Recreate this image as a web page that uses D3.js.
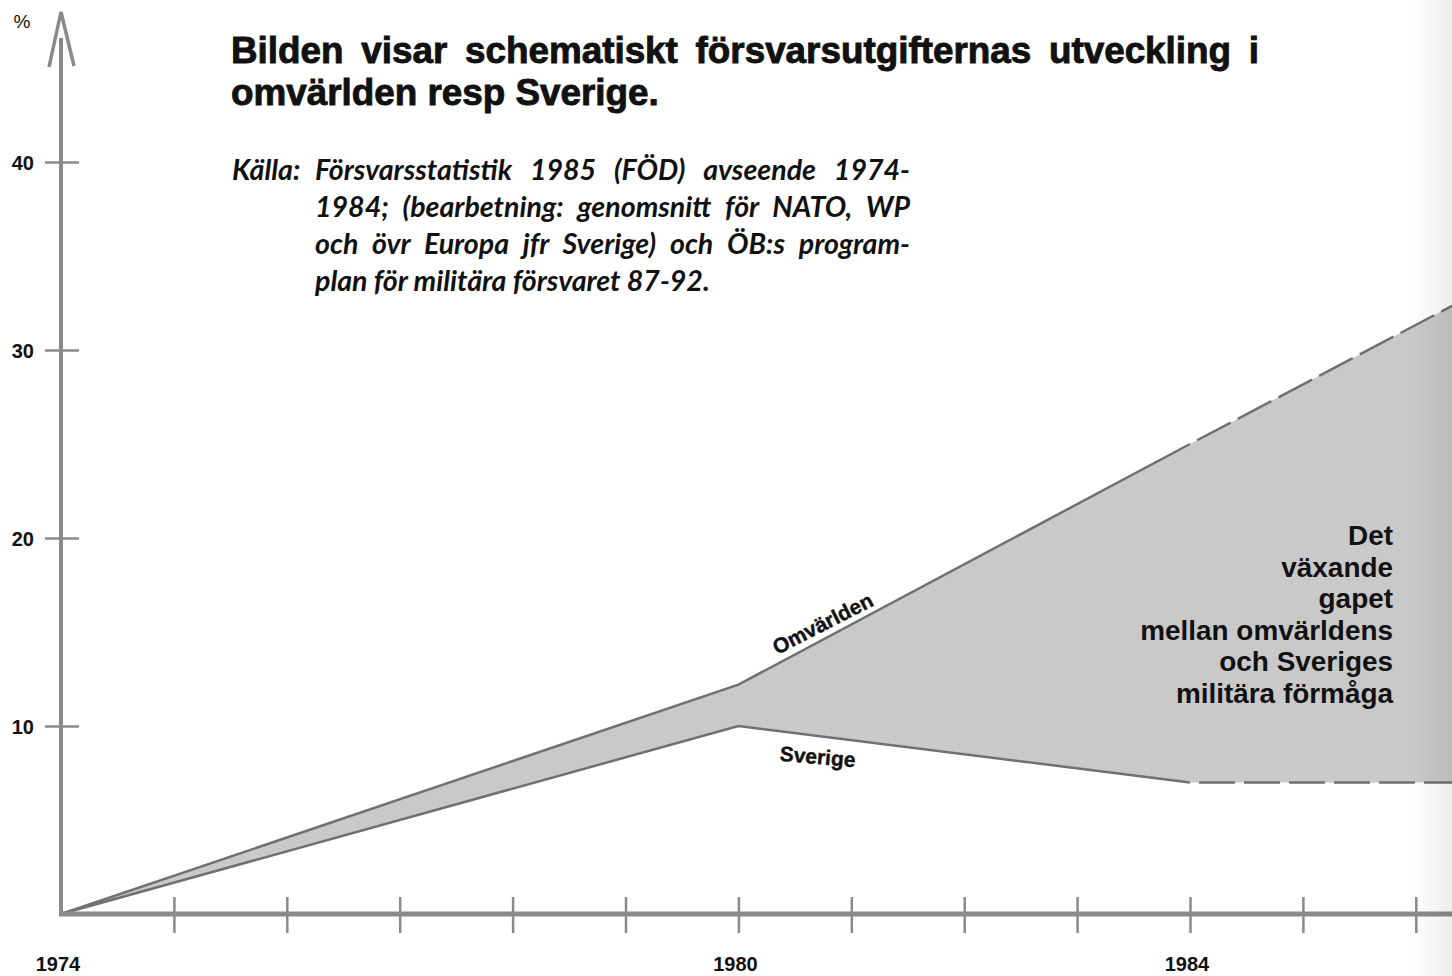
<!DOCTYPE html>
<html><head><meta charset="utf-8">
<script src="https://cdn.jsdelivr.net/npm/d3@7"></script>
<style>html,body{margin:0;padding:0;background:#fff;}svg{display:block;}</style>
</head><body>
<script>
// ---- data ----
const years = [1974, 1980, 1984, 1986.4];
const omvarlden = [0, 12.2, 25, 32.6];
const sverige = [0, 10, 7, 7];
const yTicks = [10, 20, 30, 40];
const xTickYears = [1975,1976,1977,1978,1979,1980,1981,1982,1983,1984,1985,1986];
const xLabels = [1974, 1980, 1984];
const titleLines = ["Bilden visar schematiskt försvarsutgifternas utveckling i", "omvärlden resp Sverige."];
const sourceLead = "Källa:";
const sourceLines = ["Försvarsstatistik 1985 (FÖD) avseende 1974-", "1984; (bearbetning: genomsnitt för NATO, WP", "och övr Europa jfr Sverige) och ÖB:s program-", "plan för militära försvaret 87-92."];
const gapLines = ["Det", "växande", "gapet", "mellan omvärldens", "och Sveriges", "militära förmåga"];

const W = 1452, H = 976;
const svg = d3.select("body").append("svg").attr("width", W).attr("height", H);
const x = d3.scaleLinear().domain([1974, 1984]).range([61, 1190]);
const y = d3.scaleLinear().domain([0, 40]).range([914, 162]);

const axisCol = "#8a8a8a", lineCol = "#707070", fillCol = "#c9c9c9";
const bold = "'Liberation Sans', Arial, sans-serif";

const defs = svg.append("defs");
const g1 = defs.append("linearGradient").attr("id","shade").attr("x1","0").attr("x2","1");
g1.append("stop").attr("offset","0").attr("stop-color","#000").attr("stop-opacity",0);
g1.append("stop").attr("offset","1").attr("stop-color","#000").attr("stop-opacity",0.07);

const pts = years.map((yr,i)=>({yr, o: omvarlden[i], s: sverige[i]}));
svg.append("path")
  .datum(pts)
  .attr("d", d3.area().x(d=>x(d.yr)).y0(d=>y(d.s)).y1(d=>y(d.o)))
  .attr("fill", fillCol);

const line = key => d3.line().x(d=>x(d.yr)).y(d=>y(d[key]));
const solid = pts.slice(0,3), dashed = pts.slice(2);
svg.append("path").datum(solid).attr("d", line("o")).attr("fill","none").attr("stroke",lineCol).attr("stroke-width",2.5);
svg.append("path").datum(solid).attr("d", line("s")).attr("fill","none").attr("stroke",lineCol).attr("stroke-width",2.5);
svg.append("path").datum(dashed).attr("d", line("o")).attr("fill","none").attr("stroke",lineCol).attr("stroke-width",2.5).attr("stroke-dasharray","38 8").attr("stroke-dashoffset",-8);
svg.append("path").datum(dashed).attr("d", line("s")).attr("fill","none").attr("stroke",lineCol).attr("stroke-width",2.5).attr("stroke-dasharray","36 9").attr("stroke-dashoffset",-9);

// y axis
const yAxis = svg.append("g").attr("transform", `translate(${x(1974)},0)`)
  .call(d3.axisLeft(y).tickValues(yTicks).tickSize(16).tickPadding(12).tickFormat(d3.format("d")));
yAxis.select(".domain").remove();
yAxis.selectAll(".tick line").attr("x1",-16).attr("x2",18).attr("stroke",axisCol).attr("stroke-width",2.5);
yAxis.selectAll(".tick text").attr("x",-27).attr("dy","0.36em").attr("font-family",bold).attr("font-weight","bold").attr("font-size",20).attr("fill","#111");
svg.append("line").attr("x1",x(1974)).attr("x2",x(1974)).attr("y1",y(0)+2).attr("y2",38).attr("stroke",axisCol).attr("stroke-width",4);
svg.append("polyline").attr("points",`${x(1974)-12},67 ${x(1974)},12 ${x(1974)+13},66`).attr("fill","none").attr("stroke",axisCol).attr("stroke-width",3.5).attr("stroke-linejoin","miter");
svg.append("text").attr("x",22).attr("y",28).attr("text-anchor","middle").attr("font-family",bold).attr("font-size",19).attr("fill","#111").text("%");

// x axis
const xAxis = svg.append("g").attr("transform", `translate(0,${y(0)})`)
  .call(d3.axisBottom(x).tickValues(xTickYears).tickSize(19).tickFormat(""));
xAxis.select(".domain").remove();
xAxis.selectAll(".tick line").attr("y1",-17).attr("y2",19).attr("stroke",axisCol).attr("stroke-width",2.5);
svg.append("line").attr("x1",x(1974)-2).attr("x2",W).attr("y1",y(0)).attr("y2",y(0)).attr("stroke",axisCol).attr("stroke-width",5);
svg.selectAll("text.xl").data(xLabels).enter().append("text").attr("class","xl")
  .attr("x",d=>x(d)-3).attr("y",971).attr("text-anchor","middle")
  .attr("font-family",bold).attr("font-weight","bold").attr("font-size",20).attr("fill","#111").text(d=>d);

// line labels
const o1 = [x(1980), y(omvarlden[1])], o2 = [x(1984), y(omvarlden[2])];
const angO = Math.atan2(o2[1]-o1[1], o2[0]-o1[0]) * 180/Math.PI;
svg.append("text").attr("transform",`translate(826,630) rotate(${angO+1})`).attr("text-anchor","middle")
  .attr("font-family",bold).attr("font-weight","bold").attr("font-size",21).attr("fill","#111").attr("stroke","#111").attr("stroke-width",0.4).text("Omvärlden");
svg.append("text").attr("transform",`translate(817,764) rotate(5)`).attr("text-anchor","middle")
  .attr("font-family",bold).attr("font-weight","bold").attr("font-size",21).attr("fill","#111").attr("stroke","#111").attr("stroke-width",0.4).text("Sverige");

// gap label
const gapT = svg.append("g");
const gapTexts = gapT.selectAll("text").data(gapLines).enter().append("text")
  .attr("x",1393).attr("y",(d,i)=>545+i*31.5).attr("text-anchor","end")
  .attr("font-family",bold).attr("font-weight","bold").attr("font-size",23).attr("fill","#111").text(d=>d);
{
  const n = gapTexts.nodes()[3]; const w = n.getComputedTextLength();
  const fs = 23*253/w; gapTexts.attr("font-size",fs);
}

// title
const tt = svg.selectAll("text.tt").data(titleLines).enter().append("text").attr("class","tt")
  .attr("x",231).attr("y",(d,i)=>63+i*42).attr("font-family",bold).attr("font-weight","bold").attr("font-size",30).attr("fill","#111").attr("stroke","#111").attr("stroke-width",0.9).text(d=>d);
{
  const nodes = tt.nodes();
  const w2 = nodes[1].getComputedTextLength();
  const fs = 30*428/w2; tt.attr("font-size",fs);
  const w1 = nodes[0].getComputedTextLength();
  const gaps = titleLines[0].split(" ").length-1;
  d3.select(nodes[0]).attr("word-spacing",(1028-w1)/gaps);
}

// source
const it = "Lato, 'Open Sans', sans-serif";
svg.append("text").attr("x",232).attr("y",180).attr("font-family",it).attr("font-style","italic").attr("font-weight","bold").attr("font-size",24).attr("fill","#111").text(sourceLead).attr("class","src0");
const st = svg.selectAll("text.src").data(sourceLines).enter().append("text").attr("class","src")
  .attr("x",315).attr("y",(d,i)=>180+i*37).attr("font-family",it).attr("font-style","italic").attr("font-weight","bold").attr("font-size",24).attr("fill","#111").text(d=>d);
{
  const nodes = st.nodes();
  const w4 = nodes[3].getComputedTextLength();
  const fs = 24*395/w4; st.attr("font-size",fs); svg.select(".src0").attr("font-size",fs);
  for (let i=0;i<3;i++){
    const w = nodes[i].getComputedTextLength();
    const gaps = sourceLines[i].split(" ").length-1;
    d3.select(nodes[i]).attr("word-spacing",(595-w)/gaps);
  }
}

svg.append("rect").attr("x",1412).attr("y",0).attr("width",40).attr("height",H).attr("fill","url(#shade)");
</script>
</body></html>
